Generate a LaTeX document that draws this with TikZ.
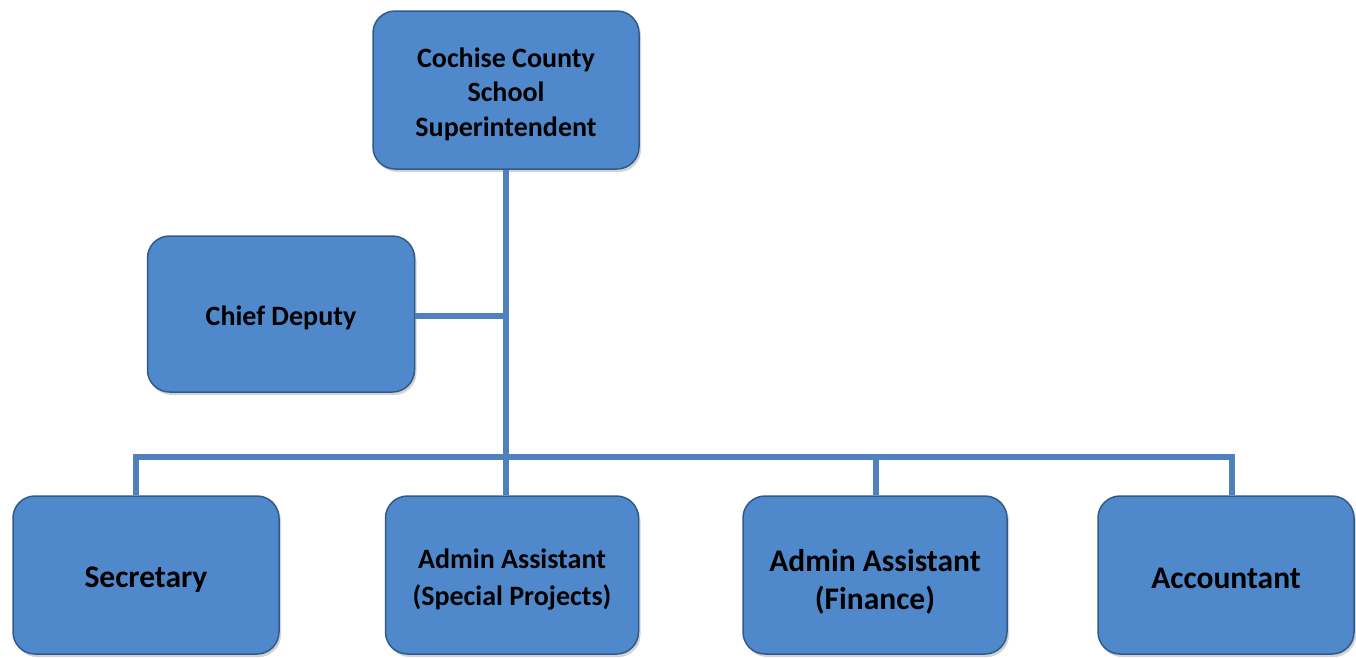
\documentclass[tikz,border=0pt]{standalone}
\usepackage{fontspec}
\setmainfont{Carlito}
\usetikzlibrary{shadows}
\definecolor{boxfill}{HTML}{5089CB}
\definecolor{boxedge}{HTML}{2F5A8C}
\definecolor{linkc}{HTML}{4F81BD}
\tikzset{
  orgbox/.style={draw=boxedge, line width=1.5pt, fill=boxfill, rounded corners=22pt,
    inner sep=0pt, minimum height=158pt,
    drop shadow={shadow xshift=2pt, shadow yshift=-3pt, opacity=0.35}},
  txt/.style={inner sep=0pt, align=center, font=\bfseries\fontsize{28}{34.5}\selectfont},
  bigtxt/.style={txt, font=\bfseries\fontsize{31.5}{38}\selectfont},
  link/.style={draw=linkc, line width=6pt}
}
\begin{document}
\begin{tikzpicture}[x=1pt,y=-1pt]
\useasboundingbox (0,0) rectangle (1356,657);
\node[orgbox, minimum width=266pt] (sup) at (506,90) {};
\node[orgbox, minimum width=267pt, minimum height=156pt] (dep) at (281,314) {};
\node[orgbox, minimum width=266pt] (sec) at (146,575) {};
\node[orgbox, minimum width=253pt] (asp) at (512,575) {};
\node[orgbox, minimum width=264pt] (afi) at (875,575) {};
\node[orgbox, minimum width=256pt] (acc) at (1226,575) {};
\node[txt] (supt) at ([yshift=-4pt]sup.center) {Cochise County\\School\\Superintendent};
\node[txt] (dept) at ([yshift=-4pt]dep.center) {Chief Deputy};
\node[bigtxt] (sect) at ([yshift=-5pt]sec.center) {Secretary};
\node[txt, font=\bfseries\fontsize{28}{37}\selectfont] (aspt) at ([yshift=-4.5pt]asp.center) {Admin Assistant\\(Special Projects)};
\node[bigtxt] (afit) at ([yshift=-7pt]afi.center) {Admin Assistant\\(Finance)};
\node[bigtxt] (acct) at ([yshift=-3pt]acc.center) {Accountant};
\coordinate (j1) at (506,316);
\coordinate (j2) at (506,457);
\coordinate (bs) at (136,457);
\coordinate (bf) at (876,457);
\coordinate (ba) at (1232,457);
\draw[link] (sup.south -| j1) -- (j2) -- (j2 |- asp.north);
\draw[link] (dep.east |- j1) -- (j1);
\draw[link, line join=miter] (sec.north -| bs) -- (bs) -- (ba) -- (ba |- acc.north);
\draw[link] (afi.north -| bf) -- (bf);
\end{tikzpicture}
\end{document}
